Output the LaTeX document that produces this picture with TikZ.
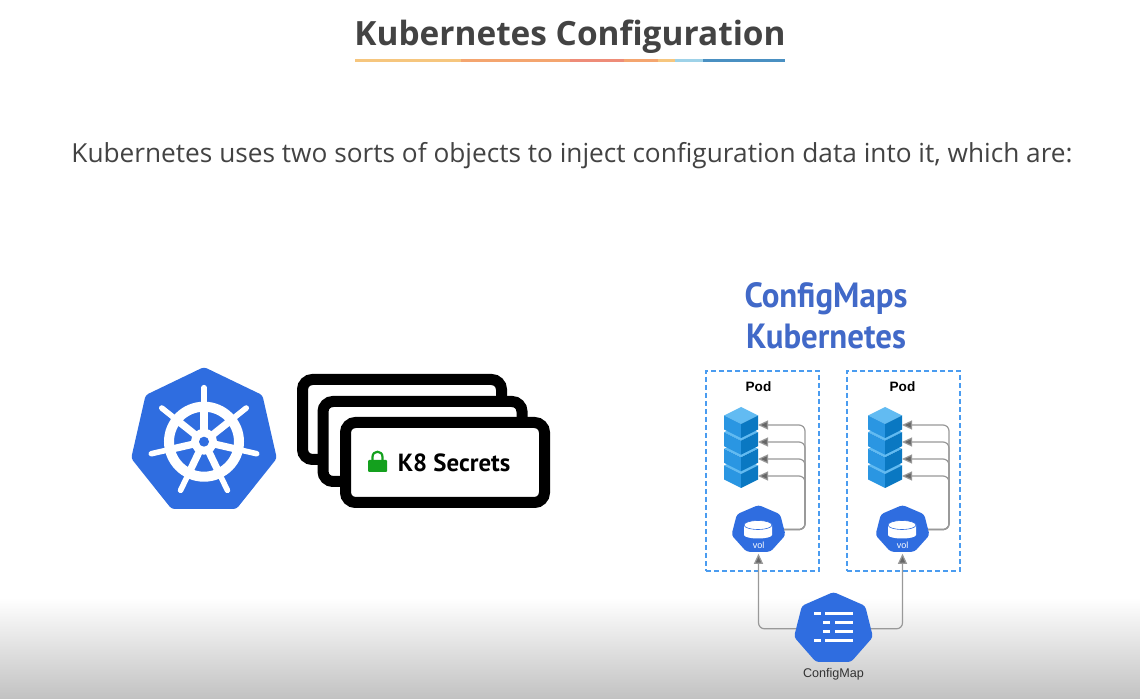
\documentclass[tikz,border=0pt]{standalone}
\usepackage{fontspec}
\setmainfont{Open Sans}
\newfontfamily\ptfont{PT Sans}
\newfontfamily\arialfont{Liberation Sans}
\usetikzlibrary{positioning,arrows.meta,shapes.geometric}

\definecolor{kubeblue}{HTML}{2F6DE0}
\definecolor{textgray}{HTML}{434343}
\definecolor{headblue}{HTML}{4169C8}
\definecolor{podblue}{HTML}{4A9CF0}
\definecolor{lockgreen}{HTML}{14A01E}
\definecolor{cubetop}{HTML}{62BBF2}
\definecolor{cubeleft}{HTML}{2A96E2}
\definecolor{cuberight}{HTML}{0A78C2}

\tikzset{
  hept/.style={regular polygon,regular polygon sides=7,fill=kubeblue,inner sep=0pt,outer sep=0pt,rounded corners=1.5pt},
  card/.style={draw=black,fill=white,line width=5.5pt,rounded corners=5pt,minimum width=99.5pt,minimum height=40pt,inner sep=0pt},
  podbox/.style={draw=podblue,line width=1pt,dash pattern=on 2.5pt off 1.5pt,minimum width=56.5pt,minimum height=100pt,inner sep=0pt},
  link/.style={draw=black!40,line width=0.6pt,rounded corners=3pt},
  linktip/.style={link,-{Triangle[length=5pt,width=4.5pt,fill=black!60]}},
  podlabel/.style={font=\arialfont\bfseries\fontsize{6.8}{8}\selectfont,text=black},
  headline/.style={font=\ptfont\bfseries\fontsize{17.5}{20}\selectfont,text=headblue,xscale=0.94,transform shape},
  cube/.pic={
    \fill[cubetop] (0,0) --(17,8.5) --(0,17) --(-17,8.5) --cycle;
    \fill[cubeleft] (-17,8.5) --(0,17) --(0,31) --(-17,22.5) --cycle;
    \fill[cuberight] (17,8.5) --(0,17) --(0,31) --(17,22.5) --cycle;
  },
  disk/.pic={
    \fill[white] (-14,-3) --(14,-3) --(14,7) arc[start angle=0,end angle=180,x radius=14,y radius=3.5] --cycle;
    \fill[white] (0,-3) circle[x radius=14,y radius=4.5];
    \draw[kubeblue,line width=0.3pt] (0,-3) circle[x radius=14,y radius=4.5];
  }
}

\begin{document}
\begin{tikzpicture}[x=0.5pt,y=-0.5pt]
\useasboundingbox (0,0) rectangle (1140,699);

%% background
\fill[white] (0,0) rectangle (1140,699);
\shade[top color=white,bottom color=black!24] (0,598) rectangle (1140,699);

%% title
\node[font=\bfseries\fontsize{16.7}{20}\selectfont,text=textgray] (title) at (570,37) {Kubernetes Configuration};
\foreach \xa/\xb/\barcolor in {355/461/F6C67E,461/570/F4A56F,570/624/EE8C78,624/658/F4A56F,658/675/F6C67E,675/703/9ED2E8,703/785/4A90C2}{
  \definecolor{barcolor}{HTML}{\barcolor}
  \fill[barcolor] (\xa,59.5) rectangle (\xb,62.5);
}
\node[font=\fontsize{13.12}{16}\selectfont,text=textgray] (intro) at (572,156) {Kubernetes uses two sorts of objects to inject configuration data into it, which are:};

%% helm logo
\node[hept,minimum size=74.7pt] (helm) at (204,441.7) {};
\foreach \k in {0,...,6}{
  \draw[white,line width=2.8pt,line cap=round] (helm.center) --++ ({270+\k*360/7}:54);
  \draw[white,line width=3.6pt] (helm.center) --++ ({270+\k*360/7}:36);
}
\draw[white,line width=5pt] (helm.center) circle[radius=35];
\fill[white] (helm.center) circle[radius=13];
\fill[kubeblue] (helm.center) circle[radius=5];

%% secrets cards
\node[card] (cardback) at (402,419.5) {};
\node[card] (cardmid) at (422.5,441.5) {};
\node[card] (cardfront) at (445,462.5) {};
\fill[lockgreen,rounded corners=0.5pt] (368,460) rectangle (387,472);
\draw[lockgreen,line width=1.1pt] (372.5,461) --(372.5,457) .. controls (372.5,450) and (382.5,450) .. (382.5,457) --(382.5,461);
\node[font=\ptfont\bfseries\fontsize{12.4}{15}\selectfont,text=black] (secretlabel) at (454,463) {K8 Secrets};

%% right heading
\node[headline] (headA) at (826,299) {ConfigMaps};
\node[headline] (headB) at (826,336) {Kubernetes};

%% pods
\foreach \pod/\px/\sx in {A/762.5/741,B/903.5/885}{
  \node[podbox] (pod\pod) at (\px,471) {};
  \node[podlabel] (podlabel\pod) at ({\sx+17.5},387) {Pod};
  \foreach \y in {457,440.3,423.7,407}{
    \pic at (\sx,\y) {cube};
  }
  \node[hept,minimum size=24.6pt,xscale=1.126,transform shape] (vol\pod) at ({\sx+17.5},529.6) {};
  \pic at ({\sx+17},528) {disk};
  \node[font=\arialfont\fontsize{4.5}{5}\selectfont,text=white] (vollabel\pod) at ({\sx+17.5},545.5) {vol};
  \coordinate (bus\pod) at ({\sx+64},528);
  \foreach \i/\y in {1/425,2/442,3/459,4/476}{
    \coordinate (row\pod\i) at ({\sx+17},\y);
    \draw[linktip] (vol\pod.east) -| (row\pod\i -| bus\pod) -- (row\pod\i);
  }
}

%% configmap
\node[hept,minimum size=36.8pt,xscale=1.1,transform shape] (cfg) at (833.5,628.8) {};
\foreach \y/\xa/\xb/\xc in {613.7/814/820.7/825.3,622.3/823.3/830/835.3,631.3/823.3/830/835.3,640.3/814/820.7/825.3}{
  \fill[white] (\xa,\y-1.5) rectangle (\xb,\y+1.5);
  \fill[white] (\xc,\y-1.5) rectangle (853,\y+1.5);
}
\node[font=\arialfont\fontsize{6.3}{7}\selectfont,text=black!80] (cfglabel) at (833.5,674) {ConfigMap};
\draw[linktip,shorten >=1pt] (cfg.west) -| (volA.south);
\draw[linktip,shorten >=1pt] (cfg.east) -| (volB.south);

\end{tikzpicture}
\end{document}
